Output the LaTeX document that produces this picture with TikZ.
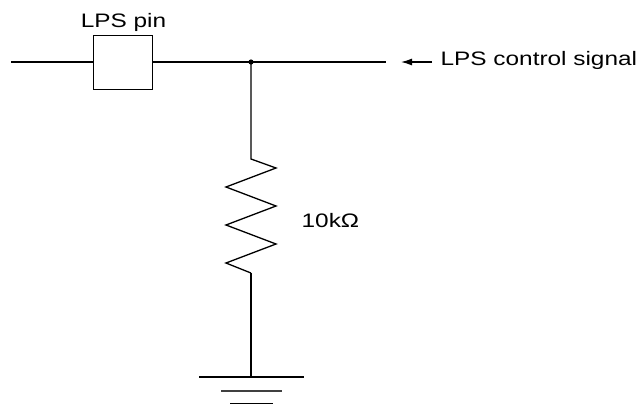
\documentclass[tikz,border=0pt]{standalone}
\usepackage{fontspec}
\setmainfont[FakeStretch=1.25]{Liberation Sans}
\usetikzlibrary{arrows.meta}
\begin{document}
\begin{tikzpicture}[x=1pt,y=-1pt,line width=1.3pt,font=\fontsize{19.5}{23}\selectfont]
      \useasboundingbox (0,0) rectangle (641,405);
      % signal line with the pin
      \coordinate (lineL) at (11,62); \coordinate (junc) at (251,62); \coordinate (lineR) at (386,62);
      \node[draw,line width=1pt,minimum width=59pt,minimum height=54pt,inner sep=0pt] (pin) at (122.5,62) {};
      \node[anchor=base] (pinlabel) at (123.5,27) {LPS pin};
      \draw (lineL) -- (pin.west); \draw (pin.east) -- (lineR);
      \fill[black] (junc) circle (2.6pt);
      \coordinate (arrtail) at (432,62); \coordinate (arrtip) at (401,62);
      \draw[-{Latex[length=11pt,width=7pt]}] (arrtail) -- (arrtip);
      \node[anchor=base west,inner sep=0pt] (signal) at (440,65) {LPS control signal};
      % resistor
      \coordinate (rtop) at (251,159); \coordinate (rbot) at (251,273);
      \draw (junc) -- (rtop) -- (276,168) -- (226,187) -- (276,206) -- (226,225) -- (276,244) -- (226,263) -- (rbot);
      \node[anchor=base west,inner sep=0pt] (rval) at (301,227) {10kΩ};
      % ground
      \coordinate (gnd) at (251,377);
      \draw (rbot) -- (gnd);
      \draw[line width=2pt] (199,377) -- (304,377);
      \draw[line width=1.2pt,black!75] (221,391) -- (282,391);
      \draw[line width=1.2pt] (230,403.5) -- (273,403.5);
     \end{tikzpicture}
\end{document}
